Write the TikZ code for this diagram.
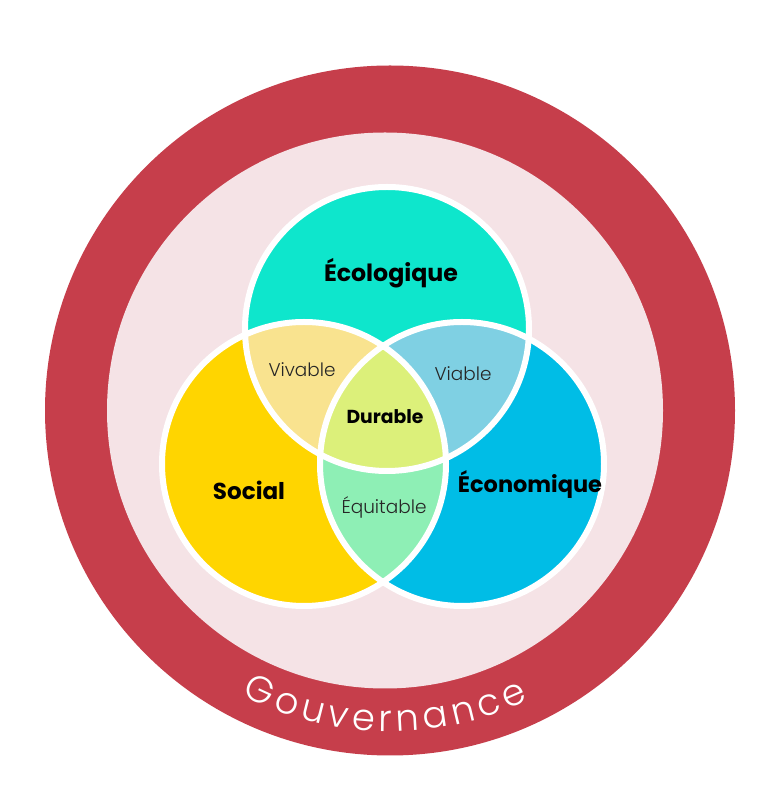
\documentclass[tikz,border=0pt]{standalone}
\usepackage{fontspec}
\setmainfont{Poppins}
\newfontfamily\lightfont{Poppins Light}
\usetikzlibrary{decorations.text}
\definecolor{ringred}{HTML}{C63E4B}
\definecolor{pinkbg}{HTML}{F5E3E6}
\definecolor{ecocol}{HTML}{0EE6CC}
\definecolor{soccol}{HTML}{FFD500}
\definecolor{econcol}{HTML}{00BDE6}
\definecolor{vivcol}{HTML}{F9E38F}
\definecolor{viacol}{HTML}{7FD0E3}
\definecolor{durcol}{HTML}{DCF07A}
\definecolor{equcol}{HTML}{8EEFB5}
\newcommand{\fitw}[2]{\resizebox{#1pt}{!}{#2}}
\tikzset{
  outline/.style={draw=white, line width=6pt},
  biglabel/.style={text=black, inner sep=0pt, font=\bfseries},
  smalllabel/.style={text=black!85, inner sep=0pt, font=\lightfont},
}
\begin{document}
\begin{tikzpicture}[x=1pt,y=1pt]
\useasboundingbox (0,0) rectangle (777,809);
\fill[white] (0,0) rectangle (777,809);
\coordinate (O) at (390,398.5);
\coordinate (P) at (385,398.5);
\fill[ringred] (O) circle (345);
\fill[pinkbg] (P) circle (278);
\def\R{142}
\coordinate (E) at (387,480);
\coordinate (S) at (304,345);
\coordinate (N) at (462,345);
\fill[ecocol] (E) circle (\R);
\fill[soccol] (S) circle (\R);
\fill[econcol] (N) circle (\R);
\begin{scope}
  \clip (S) circle (\R);
  \fill[equcol] (N) circle (\R);
\end{scope}
\begin{scope}
  \clip (E) circle (\R);
  \fill[vivcol] (S) circle (\R);
  \fill[viacol] (N) circle (\R);
  \clip (S) circle (\R);
  \fill[durcol] (N) circle (\R);
\end{scope}
\draw[outline] (E) circle (\R);
\draw[outline] (S) circle (\R);
\draw[outline] (N) circle (\R);
\node[biglabel] (eco) at (391,536) {\fitw{134}{Écologique}};
\node[biglabel] (soc) at (249,319) {\fitw{72}{Social}};
\node[biglabel] (econ) at (530,324) {\fitw{144}{Économique}};
\node[biglabel] (dur) at (385,392) {\fitw{77}{Durable}};
\node[smalllabel] (viv) at (302,439) {\fitw{67}{Vivable}};
\node[smalllabel] (via) at (463,435) {\fitw{57}{Viable}};
\node[smalllabel] (equ) at (384,302) {\fitw{85}{Équitable}};
\path[decorate, decoration={text along path,
   text={|\lightfont\fontsize{37}{37}\selectfont|Gouvernance},
   text color=white, text align={fit to path}}]
   (O) ++(242.5:321) arc (242.5:295.5:321);
\end{tikzpicture}
\end{document}
